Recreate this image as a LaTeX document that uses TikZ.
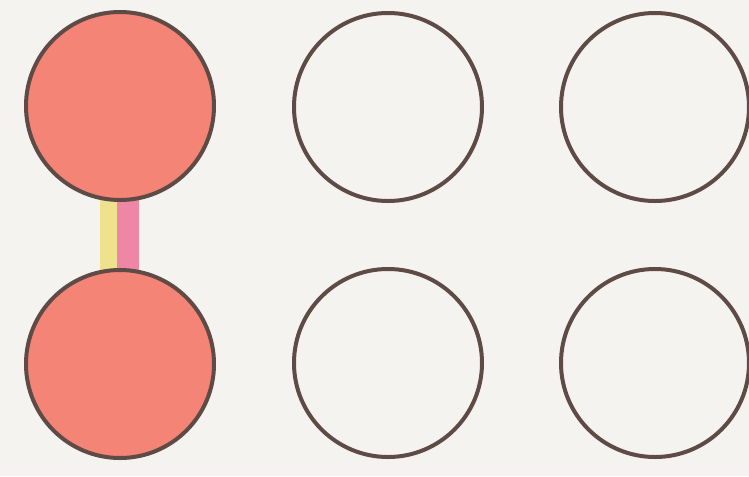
\documentclass[tikz,border=0pt]{standalone}
\begin{document}
\begin{tikzpicture}[x=0.75pt,y=-0.75pt,
  ball/.style={circle,draw=ringcol,line width=3pt,minimum size=188*0.75pt,inner sep=0pt},
  filled/.style={ball,fill=ballred},
  empty/.style={ball,fill=none}]
\definecolor{bgcol}{RGB}{245,243,240}
\definecolor{ringcol}{RGB}{95,75,70}
\definecolor{ballred}{RGB}{244,132,118}
\definecolor{ystrip}{RGB}{240,225,140}
\definecolor{pstrip}{RGB}{238,135,165}
\fill[bgcol] (0,0) rectangle (749,476);
\useasboundingbox (0,0) rectangle (749,476);
\coordinate (ta) at (120,106);
\coordinate (ba) at (120,364);
\draw[ystrip,line width=17*0.75pt] ([xshift=-12*0.75pt]ta) -- ([xshift=-12*0.75pt]ba);
\draw[pstrip,line width=22*0.75pt] ([xshift=8*0.75pt]ta) -- ([xshift=8*0.75pt]ba);
\node[filled] (a1) at (ta) {};
\node[filled] (b1) at (ba) {};
\node[empty] (a2) at (388,107) {};
\node[empty] (a3) at (655,107) {};
\node[empty] (b2) at (388,363) {};
\node[empty] (b3) at (655,363) {};
\end{tikzpicture}
\end{document}
